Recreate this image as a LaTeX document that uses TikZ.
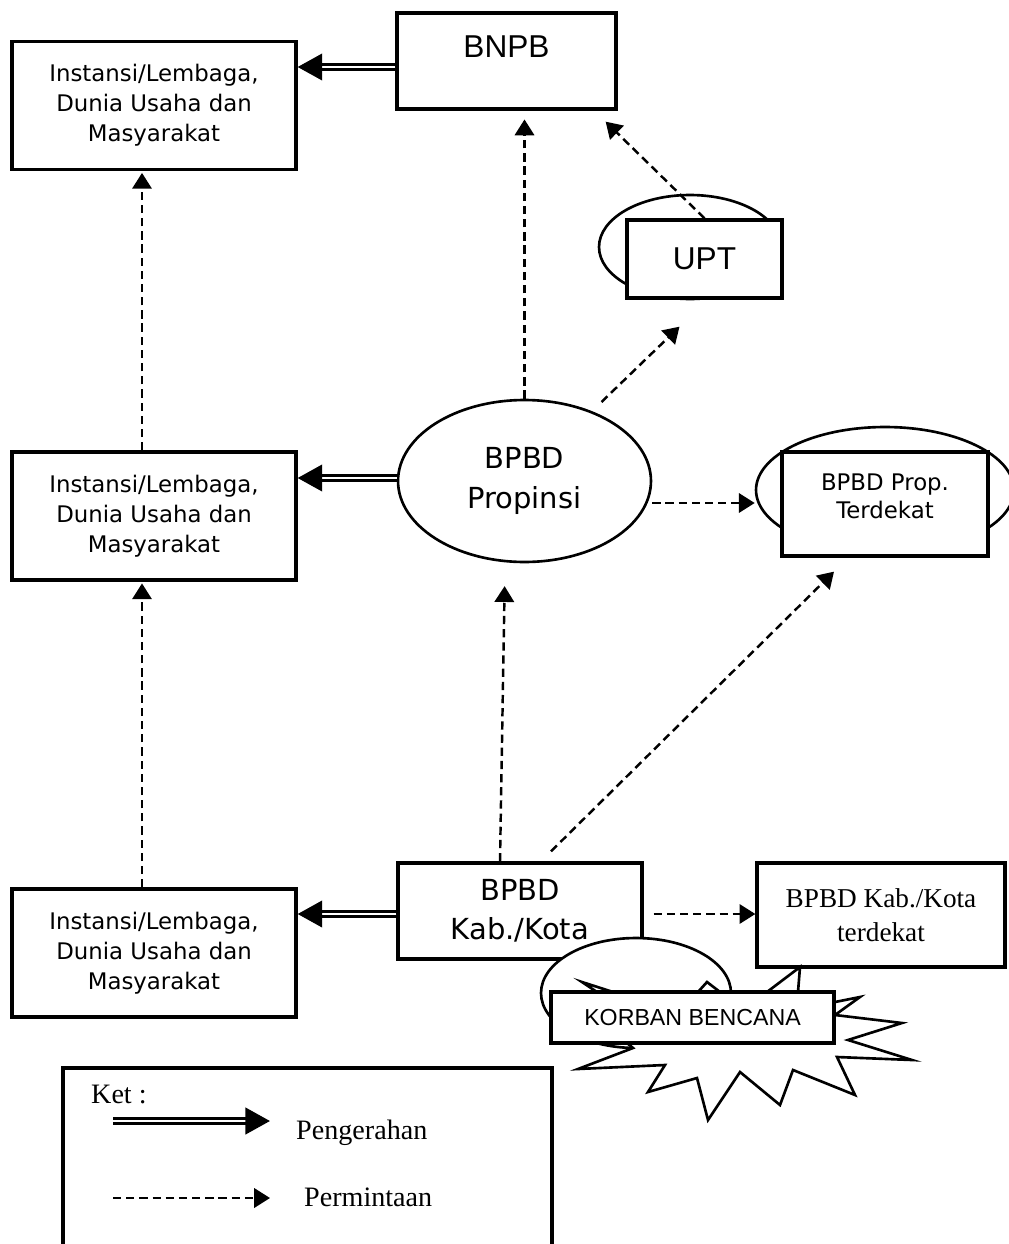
\documentclass[tikz,border=0pt]{standalone}
\usepackage{fontspec}
\setmainfont{Liberation Serif}
\newfontfamily\verdana{DejaVu Sans}
\newfontfamily\arialfont{Liberation Sans}
\usetikzlibrary{shapes.geometric,arrows.meta,calc}

\tikzset{
  box/.style={draw, line width=1.9pt, fill=white, inner sep=0pt, align=center},
  oval/.style={draw, ellipse, line width=1.5pt, fill=white, inner sep=0pt, align=center},
  instbox/.style={box, minimum width=5.68cm, minimum height=2.56cm,
    font=\verdana\fontsize{13}{17}\selectfont},
  push/.style={double, double distance=1.2pt, line width=1.8pt,
    -{Triangle[length=14pt,width=15pt]}},
  ask/.style={line width=1.4pt, dash pattern=on 4.7pt off 2.8pt,
    -{Triangle[length=9pt,width=11pt]}},
  legendtext/.style={anchor=west, font=\fontsize{16}{19}\selectfont},
}

\begin{document}
\begin{tikzpicture}[x=0.02cm, y=-0.02cm]
\useasboundingbox (0,0) rectangle (1008,1244);

% tingkat pusat
\node[instbox] (inst1) at (154,105.5) {Instansi/Lembaga,\\Dunia Usaha dan\\Masyarakat};
\node[box, minimum width=4.38cm, minimum height=1.92cm, text height=13pt, text depth=17pt,
  font=\arialfont\fontsize{18}{20}\selectfont] (bnpb) at (506.5,61) {BNPB};
\node[oval, minimum width=3.64cm, minimum height=2.08cm] (upte) at (690,247) {};
\node[box, minimum width=3.1cm, minimum height=1.56cm,
  font=\arialfont\fontsize{18}{20}\selectfont] (upt) at (704.5,259) {UPT};

% tingkat propinsi
\node[instbox] (inst2) at (154,516) {Instansi/Lembaga,\\Dunia Usaha dan\\Masyarakat};
\node[oval, minimum width=5.06cm, minimum height=3.24cm,
  font=\verdana\fontsize{16.5}{22.7}\selectfont] (prop) at (524.5,481) {BPBD\\Propinsi};
\node[oval, minimum width=5.16cm, minimum height=2.52cm] (tprope) at (885,490) {};
\node[box, minimum width=4.12cm, minimum height=2.08cm, text depth=9pt,
  font=\verdana\fontsize{13}{16}\selectfont] (tprop) at (885,504) {BPBD Prop.\\Terdekat};

% tingkat kabupaten/kota
\node[instbox] (inst3) at (154,953) {Instansi/Lembaga,\\Dunia Usaha dan\\Masyarakat};
\node[box, minimum width=4.88cm, minimum height=1.92cm,
  font=\verdana\fontsize{16.5}{22}\selectfont] (kab) at (520,911) {BPBD\\Kab./Kota};
\node[box, minimum width=4.96cm, minimum height=2.08cm,
  font=\fontsize{15.5}{19.3}\selectfont] (kabt) at (881,915) {BPBD Kab./Kota\\terdekat};
\node[oval, minimum width=3.8cm, minimum height=2.2cm] (kabe) at (636,993) {};
\draw[line width=1.5pt, fill=white, line join=miter]
  (597,992) -- (582,982) -- (613,992) -- (698,992) -- (707,982) -- (720,992)
  -- (767,992) -- (800,967) -- (798,992) -- (835,1002) -- (860,997) -- (835,1015)
  -- (902,1023) -- (848,1040) -- (912,1060) -- (837,1057) -- (855,1095)
  -- (793,1070) -- (780,1105) -- (740,1072) -- (708,1120) -- (697,1078)
  -- (648,1092) -- (665,1065) -- (578,1069) -- (633,1048) -- (627,1043) -- cycle;
\node[box, minimum width=5.66cm, minimum height=1.02cm,
  font=\arialfont\fontsize{13.2}{15}\selectfont] (korban) at (692.5,1017.5) {KORBAN BENCANA};

% pengerahan
\draw[push] (bnpb.west |- 0,67) -- (inst1.east |- 0,67);
\draw[push] (prop.west |- 0,478) -- (inst2.east |- 0,478);
\draw[push] (kab.west |- 0,914) -- (inst3.east |- 0,914);

% permintaan
\draw[ask, shorten >=1pt] (inst2.north -| 142,0) -- (inst1.south -| 142,0);
\draw[ask, shorten >=1pt] (inst3.north -| 142,0) -- (inst2.south -| 142,0);
\draw[ask, shorten >=5pt] (prop.north) -- (prop.north |- bnpb.south);
\draw[ask] (upt.north) -- ($(bnpb.south east)+(-12,11)$);
\draw[ask] ($(prop.center)+(77,-79)$) -- ($(upt.south)+(-25,27)$);
\draw[ask] (prop.east |- 0,503) -- (tprope.west |- 0,503);
\draw[ask, shorten >=13pt] (kab.north -| 500,0) -- (prop.south -| 505,0);
\draw[ask] ($(kab.north)+(31,-10)$) -- ($(tprop.south)+(-51,14)$);
\draw[ask] ($(kab.east |- 0,914)+(10,0)$) -- (kabt.west |- 0,914);

% keterangan
\draw[line width=1.9pt] (63,1068) rectangle (552,1252);
\node[legendtext] (ket) at (85,1094) {Ket :};
\coordinate (pusha) at (113,1121);
\coordinate (pushb) at (270,1121);
\draw[push] (pusha) -- (pushb);
\node[legendtext] (pushtext) at (290,1133) {Pengerahan};
\coordinate (aska) at (113,1198);
\coordinate (askb) at (270,1198);
\draw[ask] (aska) -- (askb);
\node[legendtext] (asktext) at (298,1197) {Permintaan};
\end{tikzpicture}
\end{document}
